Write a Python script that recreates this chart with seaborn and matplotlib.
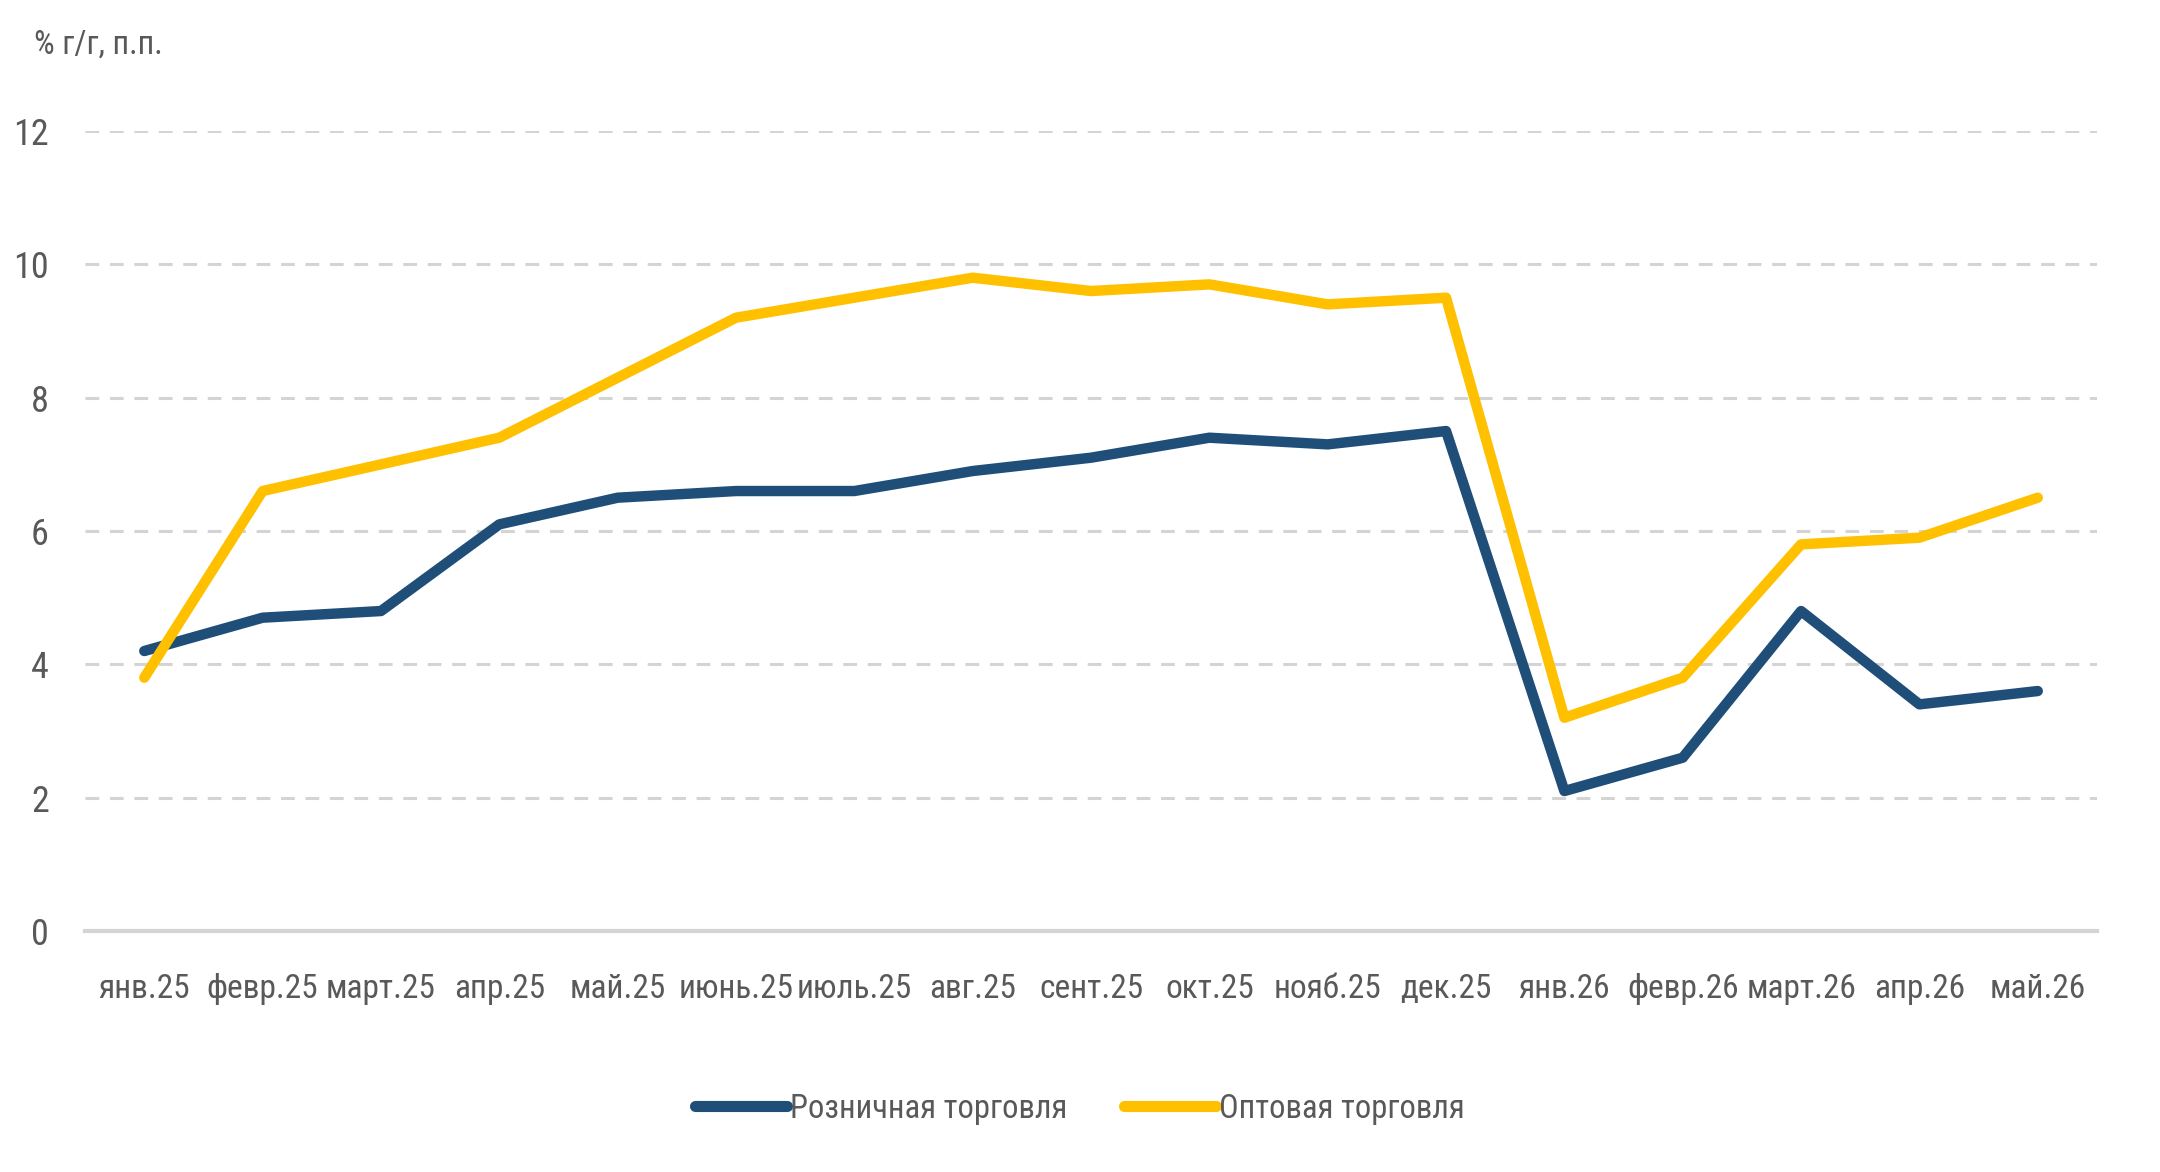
import numpy as np
import pandas as pd
import matplotlib
matplotlib.use('Agg')
import matplotlib.pyplot as plt
import seaborn as sns
from matplotlib import font_manager
from matplotlib.ticker import FixedLocator

# data
months = ['янв.25', 'февр.25', 'март.25', 'апр.25', 'май.25', 'июнь.25', 'июль.25',
          'авг.25', 'сент.25', 'окт.25', 'нояб.25', 'дек.25', 'янв.26', 'февр.26',
          'март.26', 'апр.26', 'май.26']
retail = [4.2, 4.7, 4.8, 6.1, 6.5, 6.6, 6.6, 6.9, 7.1, 7.4, 7.3, 7.5, 2.1, 2.6, 4.8, 3.4, 3.6]
wholesale = [3.8, 6.6, 7.0, 7.4, 8.3, 9.2, 9.5, 9.8, 9.6, 9.7, 9.4, 9.5, 3.2, 3.8, 5.8, 5.9, 6.5]
series_names = ['Розничная торговля', 'Оптовая торговля']
colors = ['#1F4E79', '#FFC000']

df = pd.DataFrame({'idx': np.arange(len(months)), 'month': months,
                   series_names[0]: retail, series_names[1]: wholesale})
long = df.melt(id_vars=['idx', 'month'], var_name='series', value_name='value')

sns.set_style('white')

# prefer a condensed face if one is installed
installed = {f.name for f in font_manager.fontManager.ttflist}
narrow = [n for n in ['Roboto Condensed', 'Liberation Sans Narrow', 'Open Sans Condensed',
                      'DejaVu Sans Condensed'] if n in installed]
if narrow:
    plt.rcParams['font.family'] = [narrow[0], 'DejaVu Sans']
    fs_big, fs_x, fs_leg = 26, 24, 23.5
else:
    plt.rcParams['font.family'] = ['Roboto', 'DejaVu Sans']
    fs_big, fs_x, fs_leg = 24, 19, 20
text_col = '#595959'

fig = plt.figure(figsize=(21.6, 11.72), dpi=100)
ax = fig.add_axes([0.0394, 0.2056, 0.9314, 0.6826])

sns.lineplot(data=long, x='idx', y='value', hue='series', hue_order=series_names,
             palette=colors, linewidth=7.5, ax=ax, legend=True,
             solid_capstyle='round', solid_joinstyle='round')

ax.set_xlim(-0.5, len(months) - 0.5)
ax.set_ylim(0, 12)
ax.set_yticks(range(0, 13, 2))
ax.yaxis.grid(True, color='#D4D4D4', linestyle=(0, (4.5, 3.5)), linewidth=2.2)
ax.set_axisbelow(True)

ax.set_xticks(df['idx'])
ax.set_xticklabels(months)
ax.xaxis.set_minor_locator(FixedLocator(np.arange(-0.5, len(months), 1.0)))
ax.tick_params(axis='x', which='major', length=0, pad=30, labelsize=fs_x, labelcolor=text_col)
ax.tick_params(axis='x', which='minor', length=11, width=2.5, color='#D4D4D4', direction='out')
ax.tick_params(axis='y', length=0, pad=26, labelsize=fs_big, labelcolor=text_col)

for s in ['top', 'right', 'left']:
    ax.spines[s].set_visible(False)
ax.spines['bottom'].set_color('#D4D4D4')
ax.spines['bottom'].set_linewidth(3)
ax.set_xlabel('')
ax.set_ylabel('')

fig.text(0.0157, 0.962, '% г/г, п.п.', fontsize=fs_leg, color=text_col, va='center', ha='left')

handles, labels = ax.get_legend_handles_labels()
for h in handles:
    h.set_linewidth(8)
ax.legend(handles, labels, loc='center', bbox_to_anchor=(0.5, 0.054),
          bbox_transform=fig.transFigure, ncol=2, frameon=False, fontsize=fs_leg,
          labelcolor=text_col, handlelength=2.8, handletextpad=0.1, columnspacing=1.75)

fig.savefig('out.png', dpi=100, facecolor='white')
